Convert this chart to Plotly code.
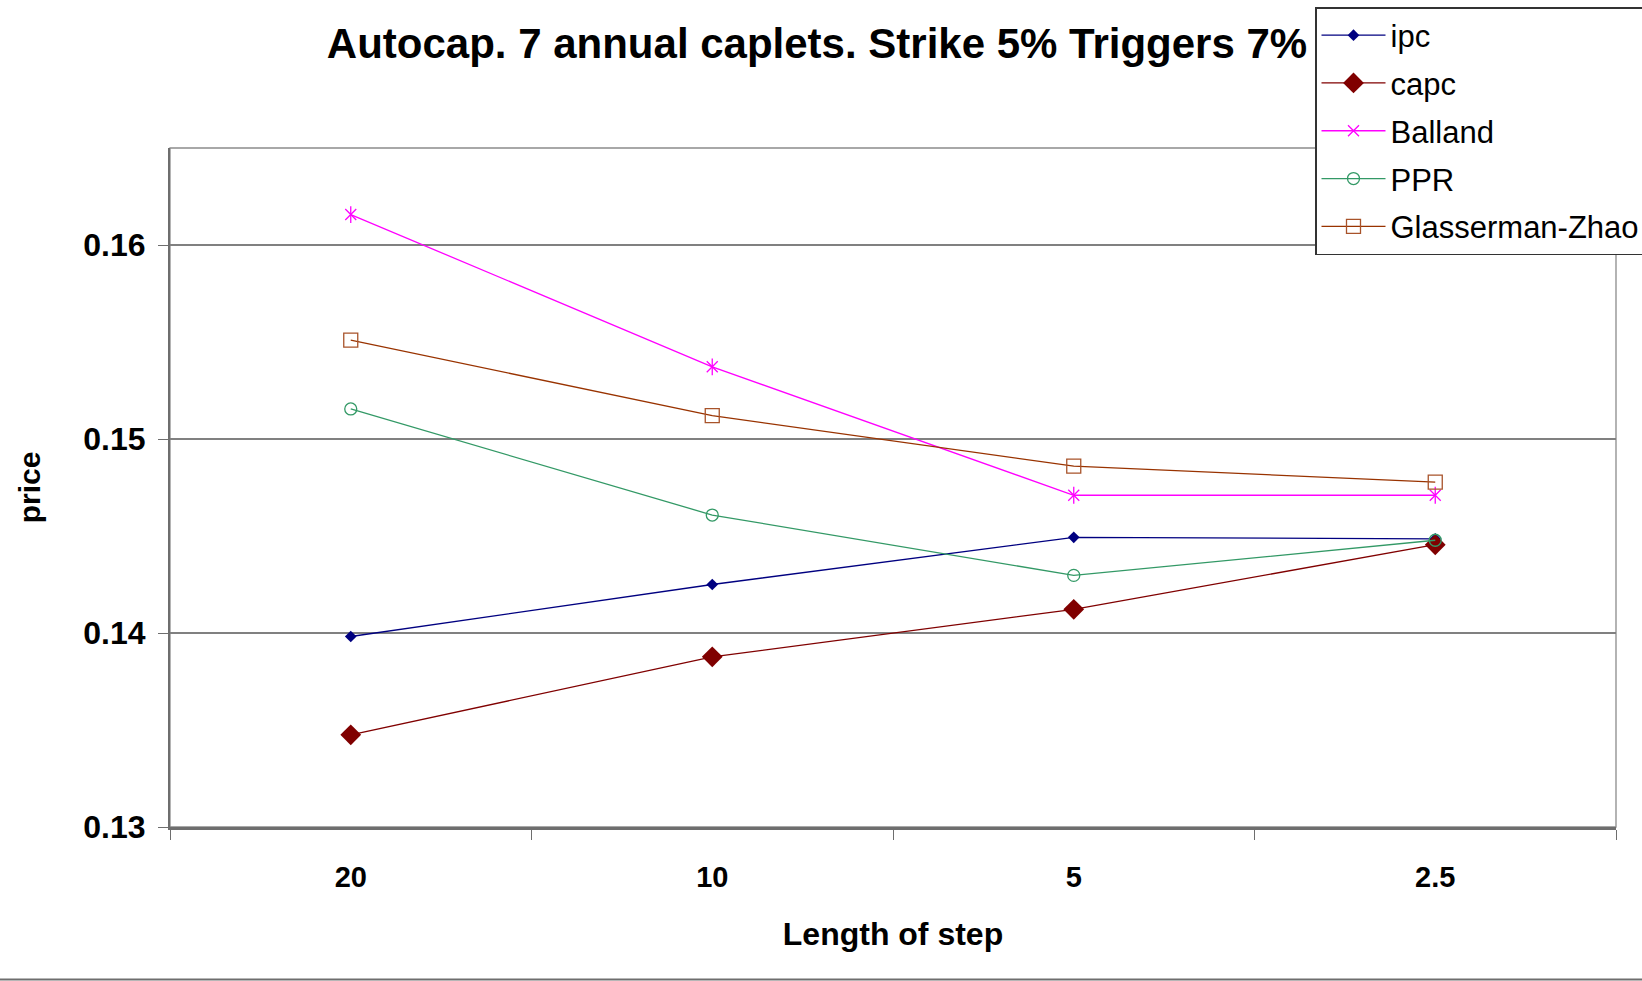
import plotly.graph_objects as go

# Step lengths (x categories) and prices for each scheme
steps = ["20", "10", "5", "2.5"]
ipc = [0.13982, 0.14250, 0.14493, 0.14485]
capc = [0.13475, 0.13877, 0.14122, 0.14455]
balland = [0.16157, 0.15372, 0.14710, 0.14710]
ppr = [0.15155, 0.14608, 0.14297, 0.14478]
glasserman_zhao = [0.15510, 0.15120, 0.14860, 0.14778]

y_ticks = [0.13, 0.14, 0.15, 0.16]

W, H = 1642, 981
L, R, T, B = 170, 26, 148, 154
plot_w = W - L - R
plot_h = H - T - B


def px_x(px):
    return (px - L) / plot_w


def px_y(py):
    return (H - B - py) / plot_h


FONT = "Liberation Sans, Arial, sans-serif"

fig = go.Figure()

fig.add_trace(go.Scatter(
    x=steps, y=ipc, name="ipc", mode="lines+markers", legendgroup="ipc",
    line=dict(color="#000080", width=1.3),
    marker=dict(symbol="diamond", size=9, color="#000080"),
))
fig.add_trace(go.Scatter(
    x=steps, y=capc, name="capc", mode="lines+markers", legendgroup="capc",
    line=dict(color="#800000", width=1.3),
    marker=dict(symbol="diamond", size=16, color="#800000"),
))
fig.add_trace(go.Scatter(
    x=steps, y=balland, name="Balland", mode="lines+markers", legendgroup="balland",
    line=dict(color="#FF00FF", width=1.3),
    marker=dict(symbol="x-thin-open", size=11, color="#FF00FF",
                line=dict(color="#FF00FF", width=1.3)),
))
# vertical stroke completing the asterisk marker
fig.add_trace(go.Scatter(
    x=steps, y=balland, name="Balland", mode="markers", legendgroup="balland",
    showlegend=False, hoverinfo="skip",
    marker=dict(symbol="line-ns-open", size=12, color="#FF00FF",
                line=dict(color="#FF00FF", width=1.3)),
))
fig.add_trace(go.Scatter(
    x=steps, y=ppr, name="PPR", mode="lines+markers", legendgroup="ppr",
    line=dict(color="#339966", width=1.3),
    marker=dict(symbol="circle-open", size=12, color="#339966",
                line=dict(color="#339966", width=1.3)),
))
fig.add_trace(go.Scatter(
    x=steps, y=glasserman_zhao, name="Glasserman-Zhao", mode="lines+markers",
    legendgroup="gz",
    line=dict(color="#993300", width=1.3),
    marker=dict(symbol="square-open", size=14, color="#A8532A",
                line=dict(color="#A8532A", width=1.3)),
))

# plot-area frame and the chart-area bottom edge
fig.add_shape(type="rect", xref="paper", yref="paper", x0=0, x1=1, y0=0, y1=1,
              line=dict(color="#8C8C8C", width=1.3), layer="below")
fig.add_shape(type="line", xref="paper", yref="paper",
              x0=px_x(0), x1=px_x(W), y0=px_y(979.5), y1=px_y(979.5),
              line=dict(color="#6E6E6E", width=2))

fig.update_layout(
    width=W, height=H,
    margin=dict(l=L, r=R, t=T, b=B, autoexpand=False),
    paper_bgcolor="white", plot_bgcolor="white",
    font=dict(family=FONT, color="black"),
    title=dict(
        text="Autocap. 7 annual caplets. Strike 5% Triggers 7%",
        font=dict(family=FONT, size=42, weight="bold", color="black"),
        xref="container", yref="container",
        x=817 / W, xanchor="center",
        y=1 - 43 / H, yanchor="middle",
    ),
    xaxis=dict(
        type="category", categoryorder="array", categoryarray=steps,
        range=[-0.5, 3.5],
        showgrid=False, zeroline=False,
        showline=True, linecolor="#6E6E6E", linewidth=2.5,
        ticks="outside", tickson="boundaries", ticklen=10, tickwidth=1.3,
        tickcolor="#6E6E6E",
        tickfont=dict(family=FONT, size=29, weight="bold", color="black"),
        ticklabelstandoff=22,
        title=dict(text="Length of step", standoff=32,
                   font=dict(family=FONT, size=32, weight="bold", color="black")),
    ),
    yaxis=dict(
        range=[0.13, 0.165], tickvals=y_ticks, tickformat=".2f",
        showgrid=True, gridcolor="#808080", gridwidth=1.5,
        zeroline=False,
        showline=True, linecolor="#6E6E6E", linewidth=2,
        ticks="outside", ticklen=10, tickwidth=1.3, tickcolor="#6E6E6E",
        tickfont=dict(family=FONT, size=32, weight="bold", color="black"),
        ticklabelstandoff=6,
        title=dict(text="price", standoff=34,
                   font=dict(family=FONT, size=30, weight="bold", color="black")),
    ),
    legend=dict(
        x=px_x(1315), xanchor="left",
        y=px_y(7), yanchor="top",
        bgcolor="white", bordercolor="#333333", borderwidth=1.5,
        font=dict(family=FONT, size=31, color="black"),
        traceorder="grouped", tracegroupgap=4.5,
        itemwidth=64,
    ),
    showlegend=True,
)

fig.write_html("out.html")
